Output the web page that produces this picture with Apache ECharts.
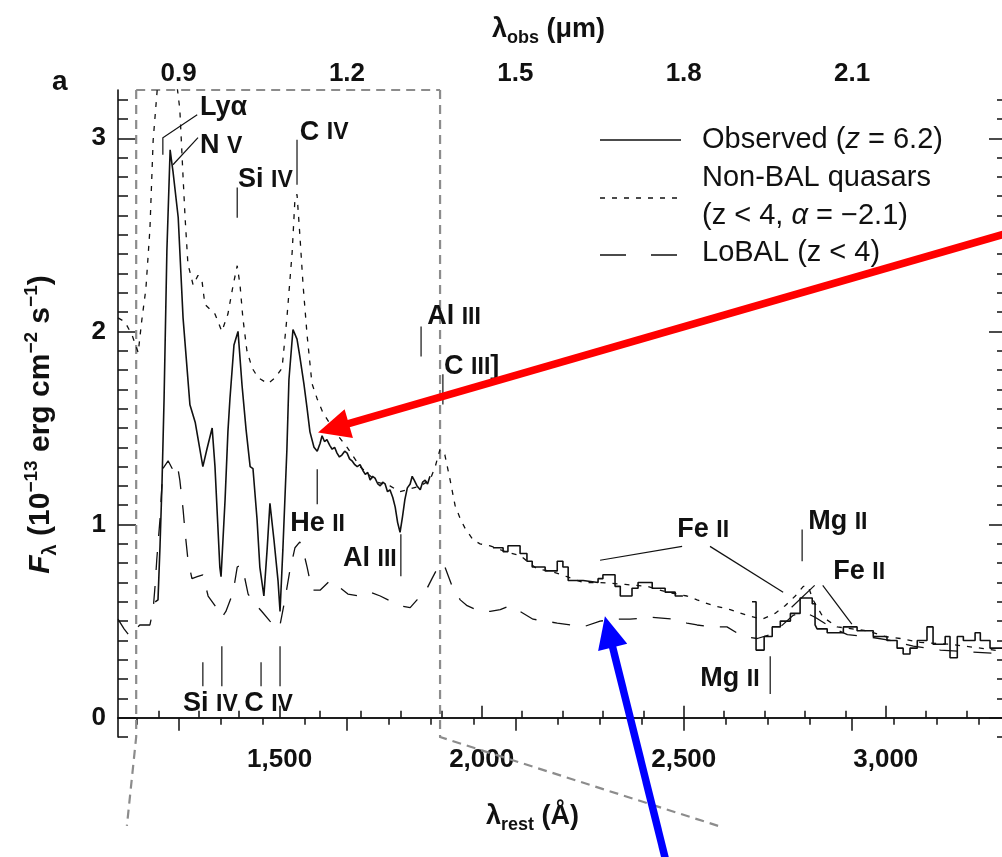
<!DOCTYPE html>
<html><head><meta charset="utf-8">
<script src="https://cdn.jsdelivr.net/npm/echarts@6/dist/echarts.min.js"></script>
<style>html,body{margin:0;padding:0;background:#fff}#c{width:1002px;height:857px}</style>
</head><body><div id="c"></div>
<script>
// ---------- DATA ----------
const Z = 6.2;
const restMajorTicks = [1500, 2000, 2500, 3000];
const obsMajorTicks = [0.9, 1.2, 1.5, 1.8, 2.1];
const fluxMajorTicks = [0, 1, 2, 3];

// Observed spectrum (z = 6.2), three segments separated by atmospheric gaps
const obsSeg1 = [[1192,0.60],[1199,0.61],[1204,0.89],[1209,1.22],[1214,1.65],[1221,2.42],[1229,2.94],[1234,2.86],[1236,2.83],[1249,2.59],[1261,2.07],[1278,1.62],[1291,1.53],[1310,1.30],[1320,1.39],[1333,1.50],[1340,1.30],[1352,0.78],[1355,0.73],[1365,1.13],[1372,1.48],[1377,1.65],[1387,1.93],[1397,2.00],[1407,1.72],[1417,1.49],[1427,1.30],[1434,1.29],[1444,1.03],[1451,0.78],[1461,0.63],[1469,0.87],[1476,1.11],[1486,0.92],[1496,0.71],[1501,0.55],[1508,0.87],[1518,1.39],[1523,1.75],[1533,2.01],[1543,1.96],[1550,1.87],[1560,1.73],[1568,1.60],[1575,1.48],[1585,1.40],[1593,1.38],[1600,1.42],[1605,1.46],[1611,1.43],[1617,1.44],[1624,1.41],[1630,1.39],[1636,1.40],[1642,1.37],[1648,1.35],[1654,1.36],[1661,1.38],[1667,1.37],[1673,1.34],[1679,1.33],[1686,1.31],[1692,1.30],[1699,1.31],[1706,1.28],[1712,1.26],[1718,1.27],[1724,1.23],[1730,1.25],[1736,1.24],[1743,1.21],[1749,1.20],[1755,1.22],[1761,1.21],[1767,1.17],[1773,1.18],[1780,1.14],[1786,1.09],[1792,1.01],[1798,0.96],[1804,1.04],[1810,1.13],[1816,1.19],[1823,1.21],[1828,1.25],[1833,1.23],[1840,1.20],[1848,1.18],[1854,1.22],[1860,1.23],[1866,1.21],[1872,1.25]];
const obsSeg2 = [[2028,0.88],[2053,0.88],[2053,0.86],[2065,0.86],[2065,0.89],[2095,0.89],[2095,0.85],[2112,0.85],[2112,0.81],[2125,0.81],[2125,0.78],[2157,0.78],[2157,0.76],[2187,0.76],[2187,0.81],[2201,0.81],[2201,0.78],[2214,0.78],[2214,0.71],[2251,0.71],[2251,0.70],[2288,0.70],[2288,0.72],[2300,0.72],[2300,0.74],[2330,0.74],[2330,0.68],[2343,0.68],[2343,0.63],[2372,0.63],[2372,0.67],[2387,0.67],[2387,0.70],[2422,0.70],[2422,0.67],[2454,0.67],[2454,0.65],[2479,0.65],[2479,0.63],[2498,0.63]];
const obsSeg3 = [[2669,0.60],[2679,0.60],[2679,0.35],[2699,0.35],[2699,0.42],[2719,0.42],[2719,0.47],[2739,0.47],[2739,0.50],[2764,0.50],[2764,0.54],[2788,0.54],[2788,0.62],[2818,0.62],[2818,0.59],[2825,0.59],[2825,0.48],[2830,0.46],[2855,0.46],[2855,0.44],[2895,0.44],[2895,0.47],[2929,0.47],[2929,0.45],[2969,0.45],[2969,0.42],[3003,0.42],[3003,0.40],[3028,0.40],[3028,0.36],[3043,0.36],[3043,0.33],[3060,0.33],[3060,0.36],[3078,0.36],[3078,0.40],[3102,0.40],[3102,0.47],[3117,0.47],[3117,0.38],[3147,0.38],[3147,0.42],[3159,0.42],[3159,0.31],[3177,0.31],[3177,0.42],[3192,0.42],[3192,0.40],[3221,0.40],[3221,0.44],[3234,0.44],[3234,0.40],[3258,0.40],[3258,0.36],[3300,0.36]];

// Non-BAL quasar composite (z < 4, alpha = -2.1)
const nonBal = [[1100,2.07],[1117,2.05],[1135,1.98],[1150,1.89],[1159,2.06],[1169,2.22],[1179,2.53],[1187,2.99],[1197,3.25],[1211,3.41],[1241,3.36],[1253,3.15],[1261,2.80],[1266,2.59],[1273,2.35],[1286,2.24],[1298,2.29],[1308,2.26],[1315,2.14],[1340,2.09],[1357,2.00],[1372,2.09],[1385,2.24],[1395,2.34],[1402,2.24],[1409,2.07],[1419,1.90],[1432,1.81],[1447,1.76],[1471,1.73],[1489,1.76],[1506,1.81],[1518,2.07],[1531,2.41],[1538,2.69],[1543,2.71],[1550,2.50],[1558,2.24],[1568,1.98],[1580,1.73],[1593,1.65],[1607,1.58],[1637,1.48],[1667,1.40],[1699,1.30],[1741,1.22],[1773,1.20],[1798,1.17],[1848,1.20],[1872,1.23],[1885,1.30],[1897,1.39],[1909,1.36],[1922,1.23],[1934,1.10],[1947,1.03],[1959,0.98],[1979,0.92],[1996,0.90],[2021,0.89],[2058,0.86],[2095,0.84],[2137,0.77],[2169,0.76],[2211,0.73],[2251,0.70],[2293,0.70],[2355,0.69],[2409,0.68],[2459,0.65],[2508,0.63],[2533,0.61],[2573,0.58],[2615,0.56],[2657,0.53],[2694,0.51],[2726,0.54],[2751,0.58],[2776,0.63],[2796,0.68],[2808,0.68],[2820,0.61],[2845,0.52],[2880,0.47],[2917,0.46],[2954,0.45],[2999,0.42],[3036,0.41],[3085,0.39],[3159,0.38],[3234,0.36],[3300,0.34]];

// LoBAL composite (z < 4)
const loBal = [[1100,0.51],[1115,0.46],[1130,0.42],[1139,0.45],[1154,0.48],[1179,0.48],[1187,0.56],[1192,0.69],[1196,0.82],[1204,1.03],[1211,1.29],[1224,1.33],[1234,1.29],[1246,1.32],[1253,1.23],[1261,1.08],[1266,0.96],[1273,0.82],[1283,0.72],[1296,0.73],[1310,0.74],[1323,0.63],[1340,0.58],[1357,0.52],[1367,0.55],[1385,0.65],[1395,0.78],[1404,0.79],[1412,0.74],[1422,0.64],[1439,0.59],[1456,0.55],[1476,0.50],[1494,0.46],[1501,0.48],[1513,0.61],[1526,0.77],[1538,0.88],[1550,0.91],[1560,0.85],[1568,0.78],[1580,0.66],[1600,0.66],[1625,0.71],[1645,0.68],[1669,0.64],[1699,0.63],[1724,0.65],[1749,0.63],[1778,0.60],[1798,0.58],[1823,0.57],[1840,0.61],[1860,0.65],[1877,0.72],[1897,0.80],[1909,0.78],[1927,0.68],[1947,0.61],[1964,0.58],[1996,0.55],[2021,0.55],[2046,0.56],[2070,0.58],[2095,0.55],[2127,0.51],[2157,0.50],[2187,0.49],[2219,0.48],[2251,0.47],[2293,0.50],[2330,0.51],[2367,0.51],[2417,0.52],[2474,0.51],[2508,0.49],[2533,0.48],[2570,0.47],[2607,0.47],[2647,0.42],[2682,0.41],[2714,0.43],[2739,0.47],[2771,0.53],[2796,0.55],[2825,0.52],[2863,0.47],[2905,0.43],[2954,0.42],[3011,0.40],[3068,0.37],[3135,0.35],[3209,0.34],[3300,0.33]];

// ---------- helpers ----------
const restMin = 1100, restMax = 3300, fMin = -0.1, fMax = 3.25;
const obsToRest = v => v * 10000 / (1 + Z);
const restMinor = [];
for (let v = 1200; v <= 3200; v += 100) if (v % 500) restMinor.push(v);
const obsMinor = [];
for (let k = 11; k <= 31; k++) { const v = k * 0.075; if (Math.abs(v / 0.3 - Math.round(v / 0.3)) > 1e-6) obsMinor.push(obsToRest(v)); }
const fMinor = [];
for (let k = -1; k <= 32; k++) if (k % 10) fMinor.push(k / 10);

const obsData = [...obsSeg1, [1950, '-'], ...obsSeg2, [2580, '-'], ...obsSeg3];

const FONT = 'Liberation Sans, Arial, Helvetica, sans-serif';
const BLACK = '#111';

const chart = echarts.init(document.getElementById('c'), null, {renderer: 'canvas'});

const tickLabelStyle = {color: BLACK, fontFamily: FONT, fontWeight: 'bold', fontSize: 26};
function xAx(pos, major, vals, len, labels, fmt, margin, extra) {
  return Object.assign({
    type: 'value', position: pos, min: restMin, max: restMax,
    axisLine: {show: major, lineStyle: {color: BLACK, width: 1.6}},
    axisTick: {show: true, inside: true, length: len, customValues: vals, lineStyle: {color: BLACK, width: 1.5}},
    axisLabel: labels ? Object.assign({customValues: vals, formatter: fmt, margin: margin}, tickLabelStyle) : {show: false},
    splitLine: {show: false}
  }, extra || {});
}
function yAx(pos, major, vals, len, labels, extra) {
  return Object.assign({
    type: 'value', position: pos, min: fMin, max: fMax,
    axisLine: {show: major, lineStyle: {color: BLACK, width: 1.6}},
    axisTick: {show: true, inside: true, length: len, customValues: vals, lineStyle: {color: BLACK, width: 1.5}},
    axisLabel: labels ? Object.assign({customValues: vals, formatter: v => String(v), margin: 12}, tickLabelStyle) : {show: false},
    splitLine: {show: false}
  }, extra || {});
}

function nameRich(fs) {
  return {
    l: {fontFamily: FONT, fontWeight: 'bold', fontSize: fs, color: BLACK, lineHeight: fs + 8, verticalAlign: 'middle'},
    sub: {fontFamily: FONT, fontWeight: 'bold', fontSize: Math.round(fs * 0.66), color: BLACK, lineHeight: fs + 8, verticalAlign: 'bottom'},
    sup: {fontFamily: FONT, fontWeight: 'bold', fontSize: Math.round(fs * 0.62), color: BLACK, lineHeight: fs + 8, verticalAlign: 'top'},
    it: {fontFamily: FONT, fontWeight: 'bold', fontStyle: 'italic', fontSize: fs, color: BLACK, lineHeight: fs + 8, verticalAlign: 'middle'}
  };
}

chart.setOption({
  animation: false,
  backgroundColor: '#fff',
  grid: {left: 118, top: 90, width: 889, height: 647, outerBoundsMode: 'none', containLabel: false},
  xAxis: [
    xAx('bottom', true, restMajorTicks, 12, true, v => Number(v).toLocaleString('en-US'), 10, {
      name: '{l|λ}{sub|rest}{l| (Å)}', nameLocation: 'middle', nameGap: 62,
      nameTextStyle: {rich: nameRich(27), padding: [0, 60, 0, 0]}
    }),
    xAx('bottom', false, restMinor, 7, false),
    xAx('top', true, obsMajorTicks.map(obsToRest), 13, true, v => (v * (1 + Z) / 10000).toFixed(1), 3, {
      name: '{l|λ}{sub|obs}{l| (μm)}', nameLocation: 'middle', nameGap: 43,
      nameTextStyle: {rich: nameRich(27), padding: [0, 28, 0, 0]}
    }),
    xAx('top', false, obsMinor, 7, false)
  ],
  yAxis: [
    yAx('left', true, fluxMajorTicks, 18, true, {
      name: '{it|F}{sub|λ}{l| (10}{sup|−13}{l| erg cm}{sup|−2}{l| s}{sup|−1}{l|)}',
      nameLocation: 'middle', nameGap: 58, nameRotate: 90,
      nameTextStyle: {rich: nameRich(30), padding: [0, 22, 0, 0]}
    }),
    yAx('left', false, fMinor, 10, false),
    yAx('right', true, fluxMajorTicks, 18, false),
    yAx('right', false, fMinor, 10, false)
  ],
  series: [
    {name: 'Observed (z = 6.2)', type: 'line', data: obsData, showSymbol: false, symbol: 'none',
     connectNulls: false, lineStyle: {color: BLACK, width: 1.6}, z: 5},
    {name: 'Non-BAL quasars', type: 'line', data: nonBal, showSymbol: false, symbol: 'none',
     lineStyle: {color: BLACK, width: 1.3, type: [5, 7]}, z: 4},
    {name: 'LoBAL (z < 4)', type: 'line', data: loBal, showSymbol: false, symbol: 'none',
     lineStyle: {color: BLACK, width: 1.3, type: [18, 16]}, z: 3}
  ]
});

// ---------- annotations (data coordinates) ----------
const P = (l, f) => chart.convertToPixel({xAxisIndex: 0, yAxisIndex: 0}, [l, f]);
const lab = {
  b: {fontFamily: FONT, fontWeight: 'bold', fontSize: 27, fill: BLACK, lineHeight: 32, verticalAlign: 'bottom'},
  s: {fontFamily: FONT, fontWeight: 'bold', fontSize: 23, fill: BLACK, lineHeight: 32, verticalAlign: 'bottom', padding: [0, 0, 1, 0]}
};
const lineLabels = [
  {text: '{b|Lyα}', at: [1303, 3.174], leaders: [[[1211, 2.915], [1211, 3.003], [1296, 3.122]]]},
  {text: '{b|N }{s|V}', at: [1303, 2.974], leaders: [[[1236, 2.863], [1298, 3.003]]]},
  {text: '{b|Si }{s|IV}', at: [1397, 2.801], leaders: [[[1395, 2.745], [1395, 2.589]]]},
  {text: '{b|C }{s|IV}', at: [1550, 3.045], leaders: [[[1543, 2.993], [1543, 2.760]]]},
  {text: '{b|Al }{s|III}', at: [1865, 2.088], leaders: [[[1850, 2.026], [1850, 1.870]]]},
  {text: '{b|C }{s|III}{b|]}', at: [1907, 1.829], leaders: [[[1904, 1.778], [1904, 1.622]]]},
  {text: '{b|He }{s|II}', at: [1526, 1.017], leaders: [[[1593, 1.286], [1593, 1.105]]]},
  {text: '{b|Al }{s|III}', at: [1657, 0.836], leaders: [[[1800, 0.950], [1800, 0.732]]]},
  {text: '{b|Si }{s|IV }{b|C }{s|IV}', at: [1261, 0.085], leaders: [
    [[1310, 0.287], [1310, 0.163]], [[1357, 0.370], [1357, 0.163]],
    [[1454, 0.287], [1454, 0.163]], [[1501, 0.370], [1501, 0.163]]]},
  {text: '{b|Fe }{s|II}', at: [2484, 0.986], leaders: [[[2293, 0.815], [2496, 0.887]], [[2565, 0.887], [2746, 0.649]]]},
  {text: '{b|Mg }{s|II}', at: [2808, 1.027], leaders: [[[2793, 0.975], [2793, 0.810]]]},
  {text: '{b|Fe }{s|II}', at: [2870, 0.768], leaders: [[[2824, 0.685], [2767, 0.572]], [[2844, 0.685], [2916, 0.484]]]},
  {text: '{b|Mg }{s|II}', at: [2541, 0.215], leaders: [[[2714, 0.318], [2714, 0.122]]]}
];

// zoom-box guide lines and arrows (data coordinates, may extend below axis)
const guideLines = [
  [[1145, fMax], [1145, fMin], [1122, -0.56]],
  [[1897, fMax], [1897, fMin], [2585, -0.56]],
  [[1145, fMax], [1897, fMax]]
];
const arrows = [
  {color: '#ff0000', tip: [1595, 1.477], tail: [3320, 2.52]},
  {color: '#0000ff', tip: [2305, 0.525], tail: [2458, -0.76]}
];

const g = [];
lineLabels.forEach(a => {
  a.leaders.forEach(pts => g.push({type: 'polyline', shape: {points: pts.map(p => P(p[0], p[1]))},
    style: {stroke: BLACK, lineWidth: 1.2, fill: null}, z: 20}));
  const p = P(a.at[0], a.at[1]);
  g.push({type: 'text', x: p[0], y: p[1], style: {text: a.text, rich: lab, align: 'left', verticalAlign: 'middle'}, z: 21});
});
guideLines.forEach(pts => g.push({type: 'polyline', shape: {points: pts.map(p => P(p[0], p[1]))},
  style: {stroke: '#8c8c8c', lineWidth: 2.2, lineDash: [9, 6], fill: null}, z: 2}));
arrows.forEach(a => {
  const t = P(a.tip[0], a.tip[1]), s = P(a.tail[0], a.tail[1]);
  const dx = t[0] - s[0], dy = t[1] - s[1], L = Math.hypot(dx, dy), ux = dx / L, uy = dy / L;
  const hl = 32, hw = 15;
  const bx = t[0] - ux * hl, by = t[1] - uy * hl;
  g.push({type: 'line', shape: {x1: s[0], y1: s[1], x2: bx + ux * 2, y2: by + uy * 2}, style: {stroke: a.color, lineWidth: 7.5}, z: 30});
  g.push({type: 'polygon', shape: {points: [t, [bx - uy * hw, by + ux * hw], [bx + uy * hw, by - ux * hw]]}, style: {fill: a.color}, z: 30});
});

// legend
const legRich = {
  n: {fontFamily: FONT, fontSize: 29, fill: BLACK},
  i: {fontFamily: FONT, fontSize: 29, fontStyle: 'italic', fill: BLACK}
};
const legend = [
  {y: 140, dash: null, text: '{n|Observed (}{i|z}{n| = 6.2)}', ty: 140},
  {y: 198, dash: [5, 7], text: '{n|Non-BAL quasars}', ty: 178},
  {y: null, dash: null, text: '{n|(z < 4, }{i|α}{n| = −2.1)}', ty: 216},
  {y: 255, dash: [26, 25], text: '{n|LoBAL (z < 4)}', ty: 253}
];
legend.forEach(e => {
  if (e.y !== null) g.push({type: 'line', shape: {x1: 600, y1: e.y, x2: 681, y2: e.y},
    style: {stroke: BLACK, lineWidth: 1.4, lineDash: e.dash || null}, z: 20});
  g.push({type: 'text', x: 702, y: e.ty, style: {text: e.text, rich: legRich, align: 'left', verticalAlign: 'middle'}, z: 20});
});
g.push({type: 'text', x: 52, y: 82, style: {text: 'a', fontFamily: FONT, fontWeight: 'bold', fontSize: 28, fill: BLACK, align: 'left', verticalAlign: 'middle'}});

chart.setOption({graphic: {elements: g}});
</script></body></html>
